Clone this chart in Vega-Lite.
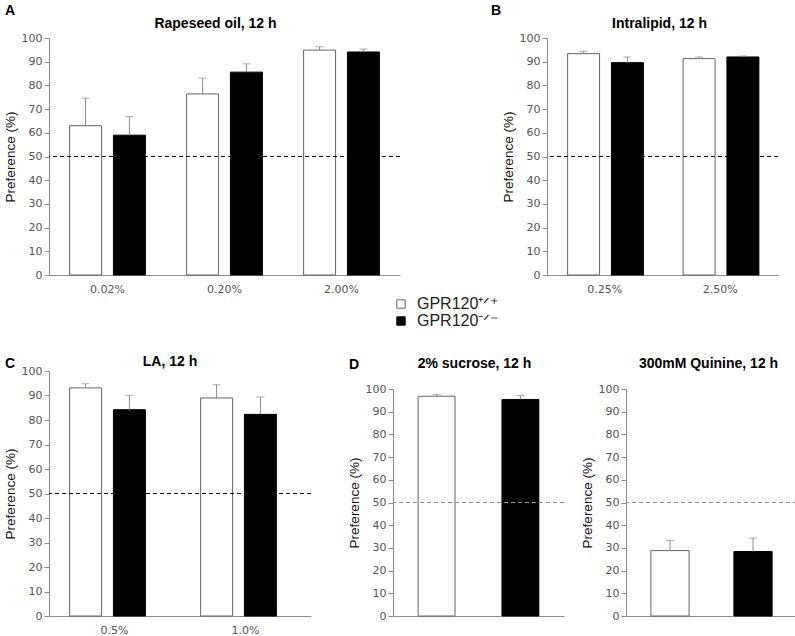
{
  "$schema": "https://vega.github.io/schema/vega-lite/v6.json",
  "padding": {"left": 3, "top": 4, "right": 0, "bottom": 0},
  "datasets": {
    "pref": [
      {"panel": "A", "conc": "0.02%", "geno": "GPR120\u207a\u141f\u207a", "mean": 63.0, "hi": 74.6},
      {"panel": "A", "conc": "0.02%", "geno": "GPR120\u207b\u141f\u207b", "mean": 59.0, "hi": 66.8},
      {"panel": "A", "conc": "0.20%", "geno": "GPR120\u207a\u141f\u207a", "mean": 76.4, "hi": 83.1},
      {"panel": "A", "conc": "0.20%", "geno": "GPR120\u207b\u141f\u207b", "mean": 85.6, "hi": 89.1},
      {"panel": "A", "conc": "2.00%", "geno": "GPR120\u207a\u141f\u207a", "mean": 94.9, "hi": 96.3},
      {"panel": "A", "conc": "2.00%", "geno": "GPR120\u207b\u141f\u207b", "mean": 94.1, "hi": 95.3},
      {"panel": "B", "conc": "0.25%", "geno": "GPR120\u207a\u141f\u207a", "mean": 93.4, "hi": 94.4},
      {"panel": "B", "conc": "0.25%", "geno": "GPR120\u207b\u141f\u207b", "mean": 89.6, "hi": 92.0},
      {"panel": "B", "conc": "2.50%", "geno": "GPR120\u207a\u141f\u207a", "mean": 91.3, "hi": 92.0},
      {"panel": "B", "conc": "2.50%", "geno": "GPR120\u207b\u141f\u207b", "mean": 92.0, "hi": 92.4},
      {"panel": "C", "conc": "0.5%", "geno": "GPR120\u207a\u141f\u207a", "mean": 93.1, "hi": 94.8},
      {"panel": "C", "conc": "0.5%", "geno": "GPR120\u207b\u141f\u207b", "mean": 84.2, "hi": 90.1},
      {"panel": "C", "conc": "1.0%", "geno": "GPR120\u207a\u141f\u207a", "mean": 89.0, "hi": 94.4},
      {"panel": "C", "conc": "1.0%", "geno": "GPR120\u207b\u141f\u207b", "mean": 82.3, "hi": 89.4},
      {"panel": "D1", "conc": "2% sucrose", "geno": "GPR120\u207a\u141f\u207a", "mean": 96.8, "hi": 97.6},
      {"panel": "D1", "conc": "2% sucrose", "geno": "GPR120\u207b\u141f\u207b", "mean": 95.4, "hi": 97.1},
      {"panel": "D2", "conc": "300mM Quinine", "geno": "GPR120\u207a\u141f\u207a", "mean": 28.8, "hi": 33.2},
      {"panel": "D2", "conc": "300mM Quinine", "geno": "GPR120\u207b\u141f\u207b", "mean": 28.4, "hi": 34.3}
    ]
  },
  "spacing": 61,
  "vconcat": [
    {
      "spacing": 90,
      "hconcat": [
        {
          "title": {"text": "A", "anchor": "start", "frame": "group", "fontSize": 14, "dx": -44, "dy": 12, "baseline": "alphabetic", "offset": 0},
          "hconcat": [
            {
              "width": 351, "height": 237,
              "data": {"name": "pref"},
              "title": {"text": "Rapeseed oil, 12 h", "fontSize": 14, "frame": "group", "anchor": "middle", "dx": -9, "dy": 15, "baseline": "alphabetic", "offset": 5},
              "layer": [
                {"transform": [{"filter": "datum.panel === 'A'"}], "mark": {"type": "bar", "strokeWidth": 1},
                 "encoding": {
                   "x": {"field": "conc", "type": "nominal", "sort": null, "title": null, "scale": {"paddingInner": 0, "paddingOuter": 0}},
                   "xOffset": {"field": "geno", "type": "nominal", "sort": null, "scale": {"paddingInner": 0.27, "paddingOuter": 0.47}},
                   "y": {"field": "mean", "type": "quantitative", "title": "Preference (%)", "scale": {"domain": [0, 100], "nice": false}, "axis": {"values": [0, 10, 20, 30, 40, 50, 60, 70, 80, 90, 100], "tickCount": 11, "labelOverlap": false}},
                   "fill": {"field": "geno", "type": "nominal", "sort": null, "title": null, "scale": {"domain": ["GPR120\u207a\u141f\u207a", "GPR120\u207b\u141f\u207b"], "range": ["white", "black"]}, "legend": {"orient": "none", "legendX": 344, "legendY": 258}},
                   "stroke": {"field": "geno", "type": "nominal", "scale": {"domain": ["GPR120\u207a\u141f\u207a", "GPR120\u207b\u141f\u207b"], "range": ["#666666", "black"]}, "legend": null}
                 }},
                {"transform": [{"filter": "datum.panel === 'A'"}], "mark": {"type": "rule", "color": "#8c8c8c"},
                 "encoding": {
                   "x": {"field": "conc", "type": "nominal", "sort": null},
                   "xOffset": {"field": "geno", "type": "nominal", "sort": null},
                   "y": {"field": "mean", "type": "quantitative"}, "y2": {"field": "hi"}
                 }},
                {"transform": [{"filter": "datum.panel === 'A'"}], "mark": {"type": "tick", "color": "#8c8c8c", "size": 8, "thickness": 1},
                 "encoding": {
                   "x": {"field": "conc", "type": "nominal", "sort": null},
                   "xOffset": {"field": "geno", "type": "nominal", "sort": null},
                   "y": {"field": "hi", "type": "quantitative"}
                 }},
                {"data": {"values": [{}]}, "mark": {"type": "rule", "strokeDash": [4, 3], "color": "black"}, "encoding": {"y": {"datum": 50, "type": "quantitative"}}}
              ]
            }
          ]
        },
        {
          "title": {"text": "B", "anchor": "start", "frame": "group", "fontSize": 14, "dx": -56, "dy": 12, "baseline": "alphabetic", "offset": 0},
          "hconcat": [
            {
              "width": 231, "height": 237,
              "data": {"name": "pref"},
              "title": {"text": "Intralipid, 12 h", "fontSize": 14, "frame": "group", "anchor": "middle", "dx": -3, "dy": 15, "baseline": "alphabetic", "offset": 5},
              "layer": [
                {"transform": [{"filter": "datum.panel === 'B'"}], "mark": {"type": "bar", "strokeWidth": 1},
                 "encoding": {
                   "x": {"field": "conc", "type": "nominal", "sort": null, "title": null, "scale": {"paddingInner": 0, "paddingOuter": 0}},
                   "xOffset": {"field": "geno", "type": "nominal", "sort": null, "scale": {"paddingInner": 0.256, "paddingOuter": 0.471}},
                   "y": {"field": "mean", "type": "quantitative", "title": "Preference (%)", "scale": {"domain": [0, 100], "nice": false}, "axis": {"values": [0, 10, 20, 30, 40, 50, 60, 70, 80, 90, 100], "tickCount": 11, "labelOverlap": false}},
                   "fill": {"field": "geno", "type": "nominal", "sort": null, "title": null, "scale": {"domain": ["GPR120\u207a\u141f\u207a", "GPR120\u207b\u141f\u207b"], "range": ["white", "black"]}, "legend": {"orient": "none", "legendX": 344, "legendY": 258}},
                   "stroke": {"field": "geno", "type": "nominal", "scale": {"domain": ["GPR120\u207a\u141f\u207a", "GPR120\u207b\u141f\u207b"], "range": ["#666666", "black"]}, "legend": null}
                 }},
                {"transform": [{"filter": "datum.panel === 'B'"}], "mark": {"type": "rule", "color": "#8c8c8c"},
                 "encoding": {
                   "x": {"field": "conc", "type": "nominal", "sort": null},
                   "xOffset": {"field": "geno", "type": "nominal", "sort": null},
                   "y": {"field": "mean", "type": "quantitative"}, "y2": {"field": "hi"}
                 }},
                {"transform": [{"filter": "datum.panel === 'B'"}], "mark": {"type": "tick", "color": "#8c8c8c", "size": 8, "thickness": 1},
                 "encoding": {
                   "x": {"field": "conc", "type": "nominal", "sort": null},
                   "xOffset": {"field": "geno", "type": "nominal", "sort": null},
                   "y": {"field": "hi", "type": "quantitative"}
                 }},
                {"data": {"values": [{}]}, "mark": {"type": "rule", "strokeDash": [4, 3], "color": "black"}, "encoding": {"y": {"datum": 50, "type": "quantitative"}}}
              ]
            }
          ]
        }
      ]
    },
    {
      "spacing": 35,
      "hconcat": [
        {
          "title": {"text": "C", "anchor": "start", "frame": "group", "fontSize": 14, "dx": -44, "dy": 27, "baseline": "alphabetic", "offset": 0},
          "hconcat": [
            {
              "width": 262, "height": 245,
              "data": {"name": "pref"},
              "title": {"text": "LA, 12 h", "fontSize": 14, "frame": "group", "anchor": "middle", "dx": -10, "dy": 15, "baseline": "alphabetic", "offset": 0},
              "layer": [
                {"transform": [{"filter": "datum.panel === 'C'"}], "mark": {"type": "bar", "strokeWidth": 1},
                 "encoding": {
                   "x": {"field": "conc", "type": "nominal", "sort": null, "title": null, "scale": {"paddingInner": 0, "paddingOuter": 0}},
                   "xOffset": {"field": "geno", "type": "nominal", "sort": null, "scale": {"paddingInner": 0.236, "paddingOuter": 0.607}},
                   "y": {"field": "mean", "type": "quantitative", "title": "Preference (%)", "scale": {"domain": [0, 100], "nice": false}, "axis": {"values": [0, 10, 20, 30, 40, 50, 60, 70, 80, 90, 100], "tickCount": 11, "labelOverlap": false}},
                   "fill": {"field": "geno", "type": "nominal", "sort": null, "title": null, "scale": {"domain": ["GPR120\u207a\u141f\u207a", "GPR120\u207b\u141f\u207b"], "range": ["white", "black"]}, "legend": {"orient": "none", "legendX": 344, "legendY": 258}},
                   "stroke": {"field": "geno", "type": "nominal", "scale": {"domain": ["GPR120\u207a\u141f\u207a", "GPR120\u207b\u141f\u207b"], "range": ["#666666", "black"]}, "legend": null}
                 }},
                {"transform": [{"filter": "datum.panel === 'C'"}], "mark": {"type": "rule", "color": "#8c8c8c"},
                 "encoding": {
                   "x": {"field": "conc", "type": "nominal", "sort": null},
                   "xOffset": {"field": "geno", "type": "nominal", "sort": null},
                   "y": {"field": "mean", "type": "quantitative"}, "y2": {"field": "hi"}
                 }},
                {"transform": [{"filter": "datum.panel === 'C'"}], "mark": {"type": "tick", "color": "#8c8c8c", "size": 8, "thickness": 1},
                 "encoding": {
                   "x": {"field": "conc", "type": "nominal", "sort": null},
                   "xOffset": {"field": "geno", "type": "nominal", "sort": null},
                   "y": {"field": "hi", "type": "quantitative"}
                 }},
                {"data": {"values": [{}]}, "mark": {"type": "rule", "strokeDash": [4, 3], "color": "black"}, "encoding": {"y": {"datum": 50, "type": "quantitative"}}}
              ]
            }
          ]
        },
        {
          "title": {"text": "D", "anchor": "start", "frame": "group", "fontSize": 14, "dx": -44, "dy": 26, "baseline": "alphabetic", "offset": 0},
          "spacing": 15,
          "hconcat": [
            {
              "width": 171, "height": 245,
              "data": {"name": "pref"},
              "title": {"text": "2% sucrose, 12 h", "fontSize": 14, "frame": "group", "anchor": "middle", "dx": -4, "dy": 15, "baseline": "alphabetic", "offset": 4},
              "layer": [
                {"transform": [{"filter": "datum.panel === 'D1'"}], "mark": {"type": "bar", "strokeWidth": 1},
                 "encoding": {
                   "x": {"field": "geno", "type": "nominal", "sort": null, "title": null, "axis": {"labels": false}, "scale": {"paddingInner": 0.56, "paddingOuter": 0.3}},
                   "y": {"field": "mean", "type": "quantitative", "title": "Preference (%)", "scale": {"domain": [0, 100], "nice": false, "range": [245, 18]}, "axis": {"values": [0, 10, 20, 30, 40, 50, 60, 70, 80, 90, 100], "tickCount": 11, "labelOverlap": false}},
                   "fill": {"field": "geno", "type": "nominal", "sort": null, "title": null, "scale": {"domain": ["GPR120\u207a\u141f\u207a", "GPR120\u207b\u141f\u207b"], "range": ["white", "black"]}, "legend": {"orient": "none", "legendX": 344, "legendY": 258}},
                   "stroke": {"field": "geno", "type": "nominal", "scale": {"domain": ["GPR120\u207a\u141f\u207a", "GPR120\u207b\u141f\u207b"], "range": ["#666666", "black"]}, "legend": null}
                 }},
                {"transform": [{"filter": "datum.panel === 'D1'"}], "mark": {"type": "rule", "color": "#8c8c8c"},
                 "encoding": {
                   "x": {"field": "geno", "type": "nominal", "sort": null},
                   "y": {"field": "mean", "type": "quantitative"}, "y2": {"field": "hi"}
                 }},
                {"transform": [{"filter": "datum.panel === 'D1'"}], "mark": {"type": "tick", "color": "#8c8c8c", "size": 8, "thickness": 1},
                 "encoding": {
                   "x": {"field": "geno", "type": "nominal", "sort": null},
                   "y": {"field": "hi", "type": "quantitative"}
                 }},
                {"data": {"values": [{}]}, "mark": {"type": "rule", "strokeDash": [4, 3], "color": "#8c8c8c"}, "encoding": {"y": {"datum": 50, "type": "quantitative"}}}
              ]
            },
            {
              "width": 171, "height": 245,
              "data": {"name": "pref"},
              "title": {"text": "300mM Quinine, 12 h", "fontSize": 14, "frame": "group", "anchor": "middle", "dx": -3, "dy": 15, "baseline": "alphabetic", "offset": 4},
              "layer": [
                {"transform": [{"filter": "datum.panel === 'D2'"}], "mark": {"type": "bar", "strokeWidth": 1},
                 "encoding": {
                   "x": {"field": "geno", "type": "nominal", "sort": null, "title": null, "axis": {"labels": false}, "scale": {"paddingInner": 0.54, "paddingOuter": 0.3}},
                   "y": {"field": "mean", "type": "quantitative", "title": "Preference (%)", "scale": {"domain": [0, 100], "nice": false, "range": [245, 18]}, "axis": {"values": [0, 10, 20, 30, 40, 50, 60, 70, 80, 90, 100], "tickCount": 11, "labelOverlap": false}},
                   "fill": {"field": "geno", "type": "nominal", "sort": null, "title": null, "scale": {"domain": ["GPR120\u207a\u141f\u207a", "GPR120\u207b\u141f\u207b"], "range": ["white", "black"]}, "legend": {"orient": "none", "legendX": 344, "legendY": 258}},
                   "stroke": {"field": "geno", "type": "nominal", "scale": {"domain": ["GPR120\u207a\u141f\u207a", "GPR120\u207b\u141f\u207b"], "range": ["#666666", "black"]}, "legend": null}
                 }},
                {"transform": [{"filter": "datum.panel === 'D2'"}], "mark": {"type": "rule", "color": "#8c8c8c"},
                 "encoding": {
                   "x": {"field": "geno", "type": "nominal", "sort": null},
                   "y": {"field": "mean", "type": "quantitative"}, "y2": {"field": "hi"}
                 }},
                {"transform": [{"filter": "datum.panel === 'D2'"}], "mark": {"type": "tick", "color": "#8c8c8c", "size": 8, "thickness": 1},
                 "encoding": {
                   "x": {"field": "geno", "type": "nominal", "sort": null},
                   "y": {"field": "hi", "type": "quantitative"}
                 }},
                {"data": {"values": [{}]}, "mark": {"type": "rule", "strokeDash": [4, 3], "color": "#8c8c8c"}, "encoding": {"y": {"datum": 50, "type": "quantitative"}}}
              ]
            }
          ]
        }
      ]
    }
  ],
  "config": {
    "view": {"stroke": null},
    "font": "Liberation Sans",
    "axis": {"domainColor": "#8c8c8c", "tickColor": "#8c8c8c", "labelColor": "#555555", "labelFont": "DejaVu Sans", "labelFontSize": 11, "grid": false, "titleFont": "Liberation Sans", "titleFontSize": 13.5, "titleFontWeight": "normal", "titleColor": "#111111", "labelOverlap": false},
    "axisY": {"tickSize": 5, "labelPadding": 2, "titlePadding": 4, "tickCount": 11, "labelOverlap": false},
    "axisX": {"ticks": false, "labelPadding": 8, "labelAngle": 0},
    "title": {"font": "Liberation Sans", "fontWeight": "bold", "color": "black"},
    "legend": {"symbolType": "square", "symbolSize": 70, "symbolStrokeColor": "#666666", "symbolStrokeWidth": 1, "labelFont": "Liberation Sans", "labelFontSize": 16, "labelColor": "#222222", "labelOffset": 8, "rowPadding": 1, "labelLimit": 300}
  }
}
